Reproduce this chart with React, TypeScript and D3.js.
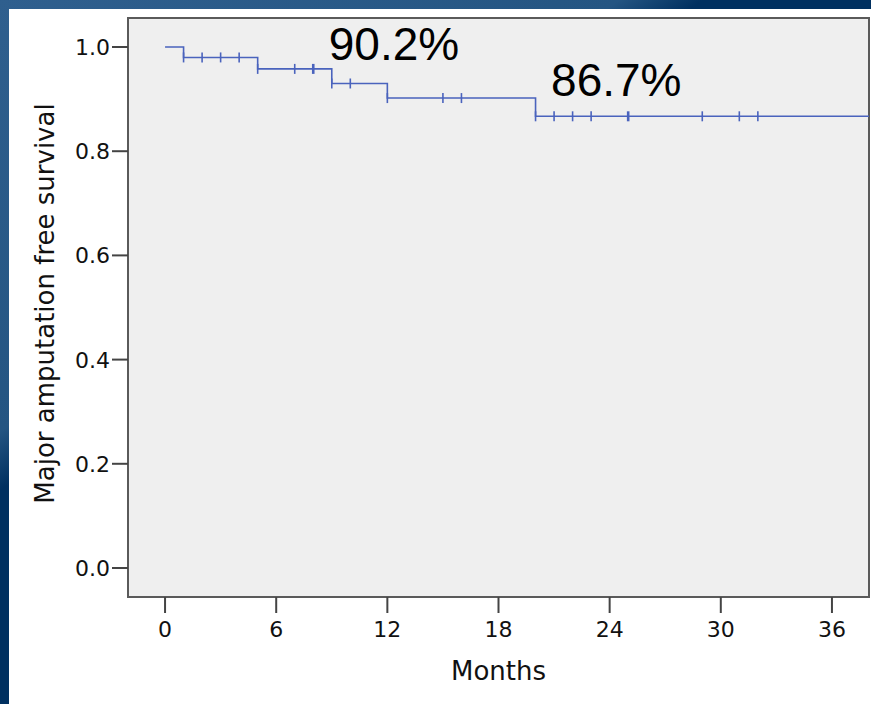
import React, { useEffect, useRef } from "react";
import * as d3 from "d3";

// Kaplan-Meier step points (months, survival)
const eventTimes = [0, 1, 5, 9, 12, 20];
const survivalLevels = [1.0, 0.98, 0.958, 0.93, 0.902, 0.867];
const followUpEnd = 38;

// censored observations (months); repeated values = tied censors
const censorTimes = [1, 2, 3, 4, 5, 7, 8, 8, 9, 10, 12, 15, 16, 20, 21, 22, 23, 25, 25, 29, 31, 32];

const xTicks = [0, 6, 12, 18, 24, 30, 36];
const yTicks = [0, 0.2, 0.4, 0.6, 0.8, 1.0];

const annotations = [
  { label: "90.2%", month: 9 },
  { label: "86.7%", month: 21 },
];
const annotationLevels = [1.0, 0.93];

const W = 871;
const H = 704;

const App = () => {
  const svgRef = useRef<SVGSVGElement | null>(null);

  useEffect(() => {
    const svg = d3.select(svgRef.current);
    svg.selectAll("*").remove();

    const axisFont = "'DejaVu Sans', Verdana, sans-serif";
    const lineColor = "#4a63bd";

    // slide background
    const defs = svg.append("defs");
    const grad = defs
      .append("linearGradient")
      .attr("id", "slideBg")
      .attr("gradientUnits", "userSpaceOnUse")
      .attr("x1", 0)
      .attr("y1", 0)
      .attr("x2", 230)
      .attr("y2", 330);
    grad.append("stop").attr("offset", 0).attr("stop-color", "#2f5f8e");
    grad.append("stop").attr("offset", 0.88).attr("stop-color", "#245582");
    grad.append("stop").attr("offset", 1).attr("stop-color", "#003060");

    svg.append("rect").attr("width", W).attr("height", H).attr("fill", "url(#slideBg)");
    svg.append("rect").attr("x", 9).attr("y", 9).attr("width", W - 9).attr("height", H - 9).attr("fill", "#ffffff");

    const x = d3.scaleLinear().domain([-2, 38]).range([128, 869]);
    const y = d3.scaleLinear().domain([-0.0557, 1.0557]).range([597, 18]);

    // plot area
    svg
      .append("rect")
      .attr("x", x(-2))
      .attr("y", y(1.0557))
      .attr("width", x(38) - x(-2))
      .attr("height", y(-0.0557) - y(1.0557))
      .attr("fill", "#efefef")
      .attr("stroke", "#5a5a5a")
      .attr("stroke-width", 2);

    // y axis
    const yAxis = svg.append("g");
    yAxis
      .selectAll("line")
      .data(yTicks)
      .enter()
      .append("line")
      .attr("x1", 112)
      .attr("x2", 128)
      .attr("y1", (d) => y(d))
      .attr("y2", (d) => y(d))
      .attr("stroke", "#444")
      .attr("stroke-width", 2);
    yAxis
      .selectAll("text")
      .data(yTicks)
      .enter()
      .append("text")
      .attr("x", 110)
      .attr("y", (d) => y(d) + 8)
      .attr("text-anchor", "end")
      .attr("fill", "#111")
      .style("font-size", "22px")
      .style("font-family", axisFont)
      .text((d) => d.toFixed(1));

    // x axis
    const xAxis = svg.append("g");
    xAxis
      .selectAll("line")
      .data(xTicks)
      .enter()
      .append("line")
      .attr("x1", (d) => x(d))
      .attr("x2", (d) => x(d))
      .attr("y1", 597)
      .attr("y2", 613)
      .attr("stroke", "#444")
      .attr("stroke-width", 2);
    xAxis
      .selectAll("text")
      .data(xTicks)
      .enter()
      .append("text")
      .attr("x", (d) => x(d))
      .attr("y", 637)
      .attr("text-anchor", "middle")
      .attr("fill", "#111")
      .style("font-size", "22px")
      .style("font-family", axisFont)
      .text((d) => d);

    // axis titles
    svg
      .append("text")
      .attr("x", (x(-2) + x(38)) / 2)
      .attr("y", 680)
      .attr("text-anchor", "middle")
      .attr("fill", "#111")
      .style("font-size", "26px")
      .style("font-family", axisFont)
      .text("Months");

    svg
      .append("text")
      .attr("transform", `translate(54, ${(y(1.0557) + y(-0.0557)) / 2 - 4}) rotate(-90)`)
      .attr("text-anchor", "middle")
      .attr("fill", "#111")
      .style("font-size", "26px")
      .style("font-family", axisFont)
      .text("Major amputation free survival");

    // survival curve
    const pts: [number, number][] = eventTimes.map((t, i) => [t, survivalLevels[i]]);
    pts.push([followUpEnd, survivalLevels[survivalLevels.length - 1]]);
    const line = d3
      .line<[number, number]>()
      .x((d) => x(d[0]))
      .y((d) => y(d[1]))
      .curve(d3.curveStepAfter);
    svg
      .append("path")
      .attr("d", line(pts))
      .attr("fill", "none")
      .attr("stroke", lineColor)
      .attr("stroke-width", 1.6);

    const survAt = (t: number) => {
      let s = 1;
      eventTimes.forEach((e, i) => {
        if (e <= t) s = survivalLevels[i];
      });
      return s;
    };

    const counts = d3.rollups(censorTimes, (v) => v.length, (d) => d);
    svg
      .append("g")
      .selectAll("line")
      .data(counts)
      .enter()
      .append("line")
      .attr("x1", (d) => x(d[0]))
      .attr("x2", (d) => x(d[0]))
      .attr("y1", (d) => y(survAt(d[0])) - 5)
      .attr("y2", (d) => y(survAt(d[0])) + 5)
      .attr("stroke", lineColor)
      .attr("stroke-width", (d) => (d[1] > 1 ? 2.6 : 1.6));

    // percentage annotations
    svg
      .append("g")
      .selectAll("text")
      .data(annotations)
      .enter()
      .append("text")
      .attr("x", (d) => x(d.month) - 3)
      .attr("y", (d, i) => y(annotationLevels[i]) + 13)
      .attr("fill", "#000")
      .style("font-size", "46px")
      .style("font-family", "'Liberation Sans', Arial, sans-serif")
      .text((d) => d.label);
  }, []);

  return (
    <svg
      ref={svgRef}
      width={W}
      height={H}
      style={{ position: "absolute", left: 0, top: 0, display: "block" }}
    ></svg>
  );
};

export default App;
